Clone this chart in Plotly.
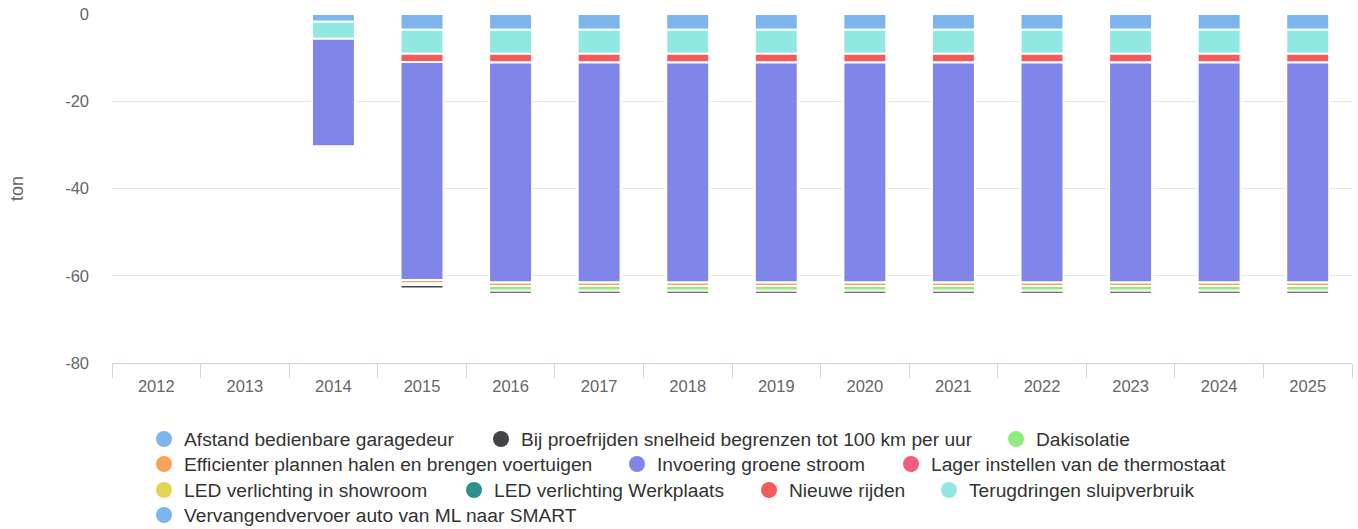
import plotly.graph_objects as go

years = ["2012", "2013", "2014", "2015", "2016", "2017", "2018",
         "2019", "2020", "2021", "2022", "2023", "2024", "2025"]

series_names = [
    "Afstand bedienbare garagedeur",
    "Bij proefrijden snelheid begrenzen tot 100 km per uur",
    "Dakisolatie",
    "Efficienter plannen halen en brengen voertuigen",
    "Invoering groene stroom",
    "Lager instellen van de thermostaat",
    "LED verlichting in showroom",
    "LED verlichting Werkplaats",
    "Nieuwe rijden",
    "Terugdringen sluipverbruik",
    "Vervangendvervoer auto van ML naar SMART",
]

afstand = [0, 0, 0, 0, 0, 0, 0, 0, 0, 0, 0, 0, 0, 0]
bij_proefrijden = [0, 0, 0, -0.8, -0.7, -0.7, -0.7, -0.7, -0.7, -0.7, -0.7, -0.7, -0.7, -0.7]
dakisolatie = [0, 0, 0, -0.3, -1.1, -1.1, -1.1, -1.1, -1.1, -1.1, -1.1, -1.1, -1.1, -1.1]
efficienter = [0, 0, 0, -0.8, -0.8, -0.8, -0.8, -0.8, -0.8, -0.8, -0.8, -0.8, -0.8, -0.8]
invoering = [0, 0, -24.6, -50.0, -50.45, -50.45, -50.45, -50.45, -50.45, -50.45, -50.45, -50.45, -50.45, -50.45]
lager = [0, 0, 0, 0, 0, 0, 0, 0, 0, 0, 0, 0, 0, 0]
led_showroom = [0, 0, 0, 0, 0, 0, 0, 0, 0, 0, 0, 0, 0, 0]
led_werkplaats = [0, 0, 0, 0, 0, 0, 0, 0, 0, 0, 0, 0, 0, 0]
nieuwe_rijden = [0, 0, 0, -1.9, -2.0, -2.0, -2.0, -2.0, -2.0, -2.0, -2.0, -2.0, -2.0, -2.0]
terugdringen = [0, 0, -3.9, -5.5, -5.5, -5.5, -5.5, -5.5, -5.5, -5.5, -5.5, -5.5, -5.5, -5.5]
vervangendvervoer = [0, 0, -1.8, -3.6, -3.6, -3.6, -3.6, -3.6, -3.6, -3.6, -3.6, -3.6, -3.6, -3.6]

series_values = [afstand, bij_proefrijden, dakisolatie, efficienter, invoering, lager,
                 led_showroom, led_werkplaats, nieuwe_rijden, terugdringen, vervangendvervoer]

y_tick_values = [0, -20, -40, -60, -80]
y_tick_labels = ["0", "-20", "-40", "-60", "-80"]

colors = ["#7cb5ec", "#434348", "#90ed7d", "#f7a35c", "#8085e9", "#f15c80",
          "#e4d354", "#2b908f", "#f45b5b", "#91e8e1", "#7cb5ec"]

# legend item placement (circle centre x, row centre y) in page pixels
legend_pos = [(164, 439), (501, 439), (1016, 439),
              (164, 464), (637, 464), (911, 464),
              (164, 490), (474, 490), (769, 490), (949, 490),
              (164, 515)]

W, H = 1358, 529
FONT = "Liberation Sans, Arial, sans-serif"

fig = go.Figure()

# bars: last series closest to zero
for i in reversed(range(len(series_names))):
    fig.add_trace(go.Bar(
        x=years, y=series_values[i], name=series_names[i],
        marker=dict(color=colors[i], line=dict(color="#ffffff", width=2)),
        showlegend=False,
    ))

layout_legends = {}
for i, name in enumerate(series_names):
    key = "legend" if i == 0 else f"legend{i + 1}"
    fig.add_trace(go.Scatter(
        x=[None], y=[None], mode="markers", name=name,
        marker=dict(color=colors[i], size=18, symbol="circle"),
        legend=key, showlegend=True, hoverinfo="skip",
    ))
    cx, cy = legend_pos[i]
    layout_legends[key] = dict(
        xref="container", yref="container",
        x=(cx - 20) / W, y=1 - cy / H,
        xanchor="left", yanchor="middle",
        orientation="h", bgcolor="rgba(0,0,0,0)", borderwidth=0,
        font=dict(family=FONT, size=19.2, color="#333333"),
        itemsizing="trace",
    )

fig.update_layout(
    barmode="relative",
    bargap=0.515,
    width=W, height=H,
    paper_bgcolor="#ffffff", plot_bgcolor="#ffffff",
    margin=dict(l=112, r=6, t=14, b=166, autoexpand=False),
    font=dict(family=FONT, color="#666666"),
    xaxis=dict(
        type="category", tickson="boundaries",
        ticks="outside", ticklen=14, tickcolor="#ccd6eb", tickwidth=1,
        showline=True, linecolor="#ccd6eb", linewidth=1,
        showgrid=False, zeroline=False,
        ticklabelstandoff=8,
        tickfont=dict(family=FONT, size=16.5, color="#666666"),
    ),
    yaxis=dict(
        range=[-80, 0], tickmode="array",
        tickvals=y_tick_values, ticktext=y_tick_labels,
        showgrid=True, gridcolor="#e6e6e6", gridwidth=1,
        zeroline=False, showline=False, ticks="",
        ticklabelstandoff=22,
        tickfont=dict(family=FONT, size=16.5, color="#666666"),
        title=dict(text="ton", font=dict(family=FONT, size=18, color="#666666"), standoff=36),
    ),
    **layout_legends,
)

fig.write_html(
    "out.html",
    config={"displayModeBar": False},
    post_script="document.body.style.margin='0';document.body.style.overflow='hidden';",
)
